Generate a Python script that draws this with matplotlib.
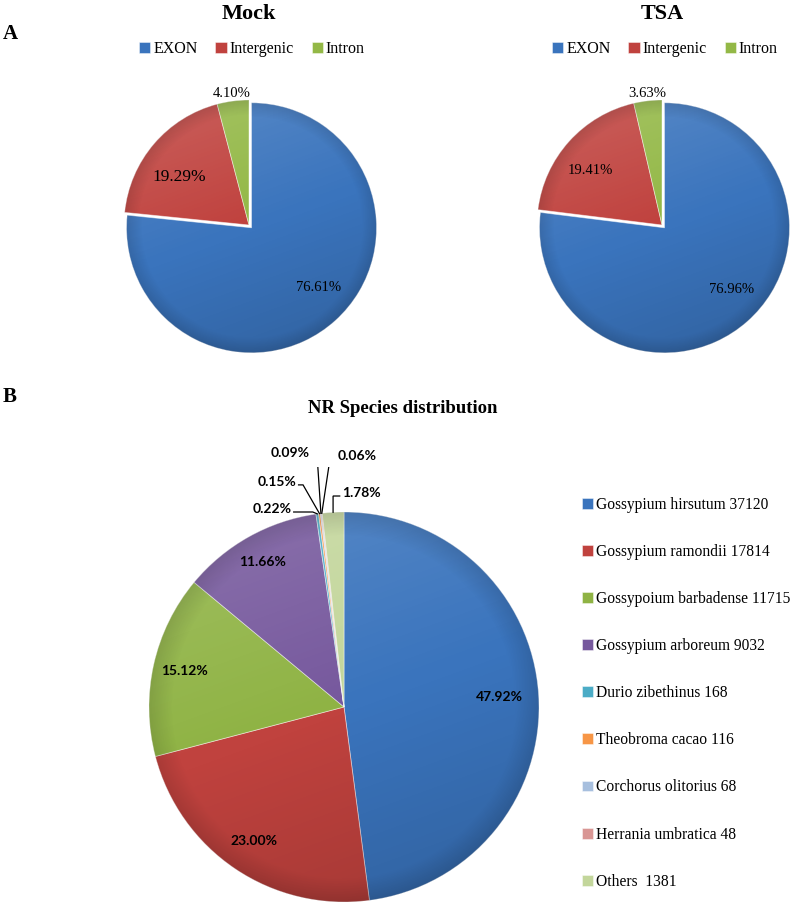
import numpy as np
import matplotlib
matplotlib.use("Agg")
import matplotlib.pyplot as plt

W, H = 797, 910

# panel A data
region_labels = ["EXON", "Intergenic", "Intron"]
mock_pct = [76.61, 19.29, 4.10]
tsa_pct = [76.96, 19.41, 3.63]

# panel B data
species = ["Gossypium hirsutum", "Gossypium ramondii", "Gossypoium barbadense",
           "Gossypium arboreum", "Durio zibethinus", "Theobroma cacao",
           "Corchorus olitorius", "Herrania umbratica", "Others "]
species_counts = [37120, 17814, 11715, 9032, 168, 116, 68, 48, 1381]

colors_a = ["#3a74bd", "#c0423e", "#93b846"]
colors_b = ["#3a74bd", "#c0423e", "#8fb344", "#76589d", "#4bacc6",
            "#f79646", "#a7bfde", "#d99694", "#c3d69b"]

SERIF = "Liberation Serif"
SANS = "Lato"

fig = plt.figure(figsize=(W / 100, H / 100), dpi=100)


def px_axes(cx, cy, half):
    return fig.add_axes([(cx - half) / W, 1 - (cy + half) / H, 2 * half / W, 2 * half / H])


def shade(ax, wedges, lim):
    n = 300
    xs = np.linspace(-lim, lim, n)
    X, Y = np.meshgrid(xs, xs[::-1])
    s = np.clip(0.55 * Y - 0.2 * X, -1, 1)
    light = np.zeros((n, n, 4))
    light[..., :3] = 1.0
    light[..., 3] = np.clip(s, 0, None) * 0.22
    dark = np.zeros((n, n, 4))
    R = np.hypot(X, Y)
    dark[..., 3] = np.clip(-s, 0, None) * 0.22 + np.clip((R - 0.88) / 0.12, 0, 1) * 0.12
    for w in wedges:
        cx, cy = w.center
        ext = (cx - lim, cx + lim, cy - lim, cy + lim)
        for img in (light, dark):
            im = ax.imshow(img, extent=ext, interpolation="bilinear", zorder=2)
            im.set_clip_path(w)


def draw_pie(ax, values, colors, explode, lim):
    wedges, _ = ax.pie(values, colors=colors, startangle=90, counterclock=False,
                       explode=explode,
                       wedgeprops=dict(edgecolor=(1, 1, 1, 0.5), linewidth=0.6))
    shade(ax, wedges, lim)
    ax.set_xlim(-lim, lim)
    ax.set_ylim(-lim, lim)
    ax.set_axis_off()
    return wedges


def mid_xy(w, d, dang=0):
    ang = np.deg2rad((w.theta1 + w.theta2) / 2 + dang)
    cx, cy = w.center
    return cx + d * w.r * np.cos(ang), cy + d * w.r * np.sin(ang)


# ---- panel A ----
panel_a = [
    ("Mock", mock_pct, 249, [0.72, 0.68, 1.06], [10.5, 12.5, 10.5], [6, 6, 0]),
    ("TSA", tsa_pct, 662, [0.73, 0.72, 1.06], [10.5, 10.5, 10.5], [6, 5, 0]),
]
for title, pct, cx, dists, sizes, dangs in panel_a:
    r = 125
    half = 150
    ax = px_axes(cx, 225, half)
    wedges = draw_pie(ax, pct, colors_a, [0.03, 0, 0], half / r)
    for w, p, d, fs, da in zip(wedges, pct, dists, sizes, dangs):
        x, y = mid_xy(w, d, da)
        ax.text(x, y, f"{p:.2f}%", ha="center", va="center", fontsize=fs,
                family=SERIF, zorder=5)
    fig.text(cx / W, 1 - 14 / H, title, ha="center", va="center", fontsize=16,
             fontweight="bold", family=SERIF)
    ax.legend(wedges, region_labels, ncol=3, loc="center",
              bbox_to_anchor=((cx + 3) / W, 1 - 49 / H), bbox_transform=fig.transFigure,
              frameon=False, prop=dict(family=SERIF, size=11.5),
              handlelength=0.7, handleheight=0.7, handletextpad=0.2,
              columnspacing=1.1, borderpad=0)

fig.text(3 / W, 1 - 34 / H, "A", ha="left", va="center", fontsize=15,
         fontweight="bold", family=SERIF)
fig.text(3 / W, 1 - 397 / H, "B", ha="left", va="center", fontsize=15,
         fontweight="bold", family=SERIF)

# ---- panel B ----
total = sum(species_counts)
pct_b = [100 * c / total for c in species_counts]
rb = 195
half_b = 240
lim_b = half_b / rb
axb = px_axes(344, 707, half_b)
wb = draw_pie(axb, species_counts, colors_b, None, lim_b)

fig.text(403 / W, 1 - 409 / H, "NR Species distribution", ha="center", va="center",
         fontsize=13.5, fontweight="bold", family=SERIF)

big_dist = [0.80, 0.83, 0.84, 0.85]
for w, p, d in zip(wb[:4], pct_b[:4], big_dist):
    x, y = mid_xy(w, d)
    axb.text(x, y, f"{p:.2f}%", ha="center", va="center", fontsize=10,
             fontweight="bold", family=SANS, zorder=5)

# small slices: text x, text y, alignment, elbow x (in pie radius units)
small_labels = [(-0.27, 1.015, "right", -0.16),
                (-0.245, 1.154, "right", -0.21),
                (-0.174, 1.303, "right", -0.138),
                (-0.031, 1.287, "left", -0.072),
                (-0.01, 1.097, "left", -0.056)]
for w, p, (tx, ty, ha, ex) in zip(wb[4:], pct_b[4:], small_labels):
    axb.text(tx, ty, f"{p:.2f}%", ha=ha, va="center", fontsize=10,
             fontweight="bold", family=SANS, zorder=5)
    px, py = mid_xy(w, 1.0)
    sx = tx + 0.012 if ha == "right" else tx - 0.012
    ly = ty - 0.015
    axb.plot([sx, ex, px], [ly, ly, py], color="black", lw=0.9, zorder=4,
             solid_joinstyle="miter")
axb.set_xlim(-lim_b, lim_b)
axb.set_ylim(-lim_b, lim_b)

leg_labels = [f"{s} {c}" for s, c in zip(species, species_counts)]
fig.legend(wb, leg_labels, loc="upper left", bbox_to_anchor=(574 / W, 1 - 489 / H),
           frameon=False, prop=dict(family=SERIF, size=11.2),
           handlelength=0.7, handleheight=0.7, handletextpad=0.2,
           labelspacing=2.0, borderpad=0)

fig.savefig("out.png", dpi=100, facecolor="white")
